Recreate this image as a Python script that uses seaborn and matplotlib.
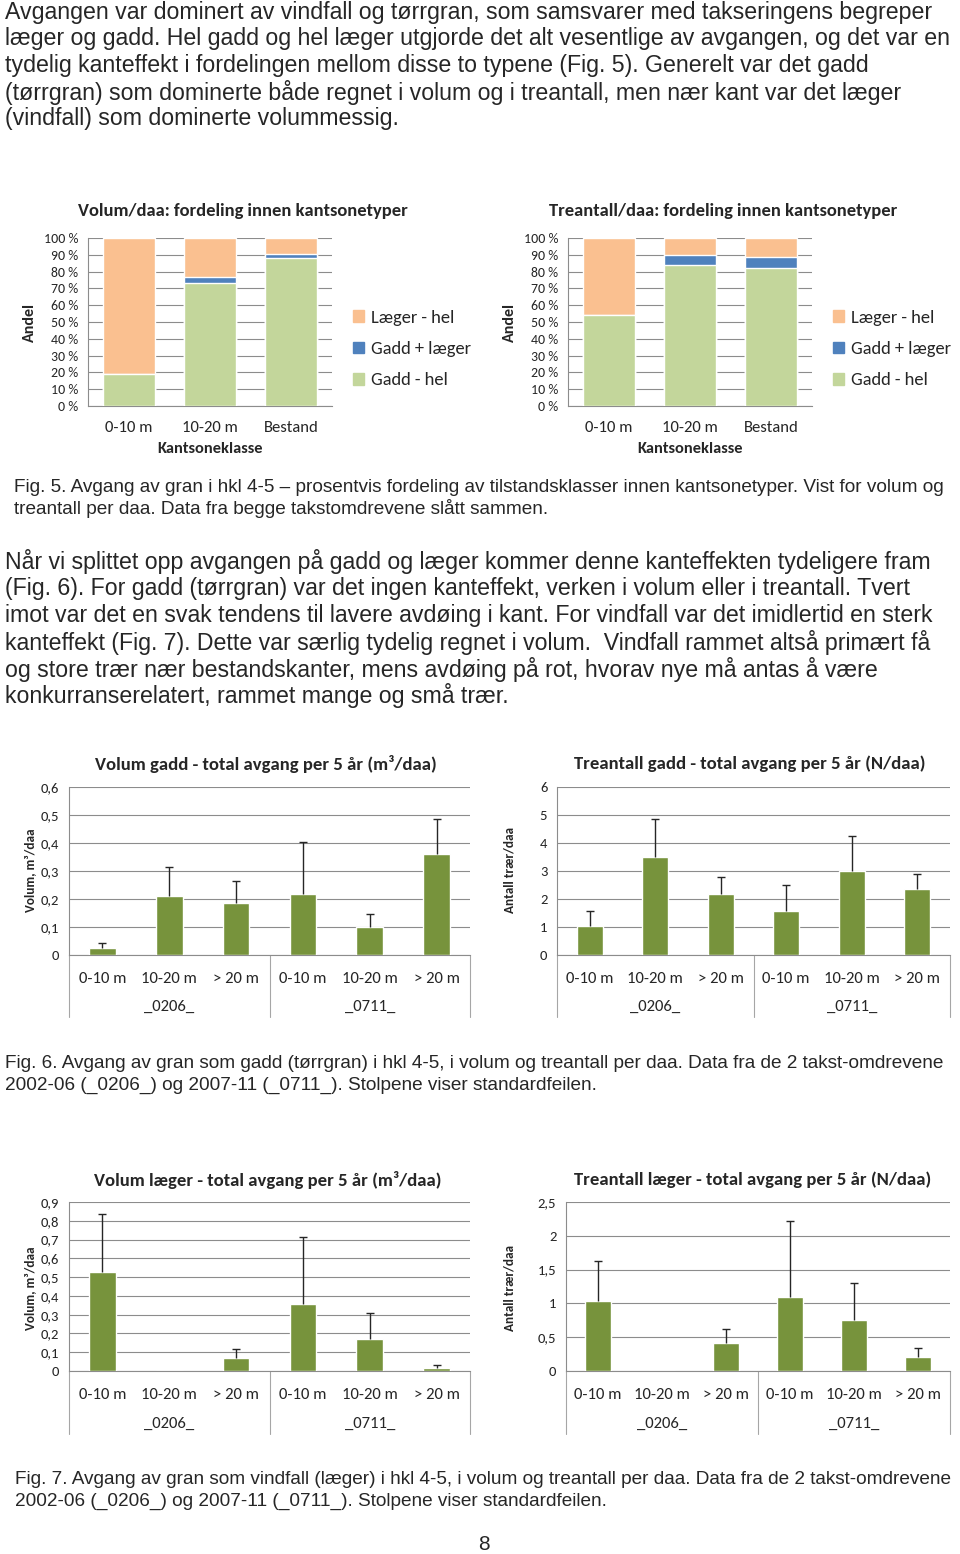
import numpy as np
import seaborn as sns
import matplotlib.pyplot as plt
import matplotlib.ticker as mtick
import matplotlib.transforms as mtrans

# Fig. 5 - andel (%) per kantsoneklasse
zones = ['0-10 m', '10-20 m', 'Bestand']
vol_gadd_hel = [19, 73.5, 88]
vol_gadd_laeger = [0, 3.5, 2.5]
vol_laeger_hel = [81, 23, 9.5]
tre_gadd_hel = [54, 84, 82]
tre_gadd_laeger = [0, 6, 6.5]
tre_laeger_hel = [46, 10, 11.5]
legend_labels = ['Læger - hel', 'Gadd + læger', 'Gadd - hel']

# Fig. 6 og 7 - avgang per 5 år, med standardfeil
classes = ['0-10 m', '10-20 m', '> 20 m']
periods = ['_0206_', '_0711_']
vol_gadd = [0.025, 0.212, 0.187, 0.218, 0.100, 0.362]
vol_gadd_se = [0.017, 0.103, 0.076, 0.185, 0.045, 0.125]
tre_gadd = [1.05, 3.50, 2.18, 1.57, 3.00, 2.37]
tre_gadd_se = [0.52, 1.37, 0.62, 0.93, 1.25, 0.53]
vol_laeger = [0.527, 0.0, 0.068, 0.357, 0.172, 0.018]
vol_laeger_se = [0.308, 0.0, 0.050, 0.355, 0.138, 0.015]
tre_laeger = [1.04, 0.0, 0.42, 1.10, 0.75, 0.21]
tre_laeger_se = [0.58, 0.0, 0.20, 1.12, 0.55, 0.13]

para1 = [
    "Avgangen var dominert av vindfall og tørrgran, som samsvarer med takseringens begreper",
    "læger og gadd. Hel gadd og hel læger utgjorde det alt vesentlige av avgangen, og det var en",
    "tydelig kanteffekt i fordelingen mellom disse to typene (Fig. 5). Generelt var det gadd",
    "(tørrgran) som dominerte både regnet i volum og i treantall, men nær kant var det læger",
    "(vindfall) som dominerte volummessig.",
]
cap5 = [
    "Fig. 5. Avgang av gran i hkl 4-5 – prosentvis fordeling av tilstandsklasser innen kantsonetyper. Vist for volum og",
    "treantall per daa. Data fra begge takstomdrevene slått sammen.",
]
para2 = [
    "Når vi splittet opp avgangen på gadd og læger kommer denne kanteffekten tydeligere fram",
    "(Fig. 6). For gadd (tørrgran) var det ingen kanteffekt, verken i volum eller i treantall. Tvert",
    "imot var det en svak tendens til lavere avdøing i kant. For vindfall var det imidlertid en sterk",
    "kanteffekt (Fig. 7). Dette var særlig tydelig regnet i volum.  Vindfall rammet altså primært få",
    "og store trær nær bestandskanter, mens avdøing på rot, hvorav nye må antas å være",
    "konkurranserelatert, rammet mange og små trær.",
]
cap6 = [
    "Fig. 6. Avgang av gran som gadd (tørrgran) i hkl 4-5, i volum og treantall per daa. Data fra de 2 takst-omdrevene",
    "2002-06 (_0206_) og 2007-11 (_0711_). Stolpene viser standardfeilen.",
]
cap7 = [
    "Fig. 7. Avgang av gran som vindfall (læger) i hkl 4-5, i volum og treantall per daa. Data fra de 2 takst-omdrevene",
    "2002-06 (_0206_) og 2007-11 (_0711_). Stolpene viser standardfeilen.",
]

ORANGE, BLUE, LGREEN, OLIVE = '#FAC090', '#4F81BD', '#C3D69B', '#77933C'
GRID = '#8C8C8C'
BODY = ['Liberation Sans', 'DejaVu Sans']
CHART = ['Carlito', 'Lato', 'DejaVu Sans']

sns.set_style('white')
plt.rcParams['font.family'] = CHART

W, H = 960, 1554
fig = plt.figure(figsize=(W / 100, H / 100), dpi=100)


def add_ax(left, top, right, bottom):
    return fig.add_axes([left / W, 1 - bottom / H, (right - left) / W, (bottom - top) / H])


def ftext(x, y, s, **kw):
    fig.text(x / W, 1 - y / H, s, **kw)


def body(lines, x, y0, dy, size):
    for i, line in enumerate(lines):
        ftext(x, y0 + i * dy, line, family=BODY, fontsize=size, va='center', ha='left')


def style_ax(ax, ymax, step, fmt, ysize):
    ax.set_ylim(0, ymax)
    ax.set_yticks(np.arange(0, ymax + step / 2, step))
    ax.yaxis.set_major_formatter(mtick.FuncFormatter(fmt))
    ax.yaxis.grid(True, color=GRID, lw=0.8)
    ax.set_axisbelow(True)
    for s in ['top', 'right']:
        ax.spines[s].set_visible(False)
    for s in ['left', 'bottom']:
        ax.spines[s].set_color(GRID)
        ax.spines[s].set_linewidth(0.8)
    ax.tick_params(axis='y', length=0, pad=7, labelsize=ysize, colors='#262626')
    ax.set_xlabel('')
    ax.set_ylabel('')


def stacked(ax, hel_g, gl, hel_l):
    g = np.array(hel_g)
    b = g + np.array(gl)
    t = b + np.array(hel_l)
    handles = []
    for vals, col in [(t, ORANGE), (b, BLUE), (g, LGREEN)]:
        sns.barplot(x=zones, y=vals, color=col, width=0.64, saturation=1,
                    errorbar=None, ax=ax, zorder=3)
        handles.append(plt.Rectangle((0, 0), 1, 1, color=col))
    ax.set_xlim(-0.5, 2.5)
    style_ax(ax, 100, 10, lambda v, p: f'{int(v)} %', 10)
    ax.tick_params(axis='x', length=0, pad=11, labelsize=12, colors='#262626')
    return handles


def bars(ax, vals, se, ymax, step):
    pos = [f'{p} {c}' for p in periods for c in classes]
    sns.barplot(x=pos, y=vals, color=OLIVE, width=0.4, saturation=1,
                errorbar=None, ax=ax, zorder=3)
    x = np.arange(len(vals))
    v = np.array(vals)
    e = np.array(se)
    keep = e > 0
    _, caps, _ = ax.errorbar(x[keep], v[keep], yerr=[np.zeros(keep.sum()), e[keep]],
                             fmt='none', ecolor='#262626', elinewidth=1,
                             capsize=3, capthick=1, zorder=4)
    for c in caps:
        if np.allclose(c.get_ydata(), v[keep]):
            c.set_visible(False)
    ax.set_xlim(-0.5, 5.5)
    style_ax(ax, ymax, step, lambda t, p: f'{t:g}'.replace('.', ','), 10.5)
    ax.set_xticks(x)
    ax.set_xticklabels(classes * 2)
    ax.tick_params(axis='x', length=0, pad=12, labelsize=12, colors='#262626')
    tr = mtrans.blended_transform_factory(ax.transData, ax.transAxes)
    for xs in [-0.5, 2.5, 5.5]:
        ax.plot([xs, xs], [0, -0.37], transform=tr, color='#A6A6A6', lw=0.8, clip_on=False)
    for i, p in enumerate(periods):
        ax.text(1 + 3 * i, -0.31, p, transform=tr, ha='center', va='center',
                fontsize=12, color='#262626')


# tekst på siden
body(para1, 5, 12, 26.7, 16.7)
body(cap5, 14, 487, 22, 13.7)
body(para2, 5, 562, 26.8, 16.7)
body(cap6, 5, 1063, 22, 13.7)
body(cap7, 15, 1479, 22, 13.7)
ftext(484, 1545, '8', family=BODY, fontsize=15, ha='center', va='center')

# Fig. 5
for left, title, data in [
    (88, 'Volum/daa: fordeling innen kantsonetyper', (vol_gadd_hel, vol_gadd_laeger, vol_laeger_hel)),
    (568, 'Treantall/daa: fordeling innen kantsonetyper', (tre_gadd_hel, tre_gadd_laeger, tre_laeger_hel)),
]:
    ax = add_ax(left, 238, left + 244, 406)
    handles = stacked(ax, *data)
    ftext(left + 155, 211, title, fontsize=13.3, weight='bold', ha='center', va='center')
    ftext(left - 58, 322, 'Andel', fontsize=11.5, weight='bold', rotation=90, ha='center', va='center')
    ftext(left + 122, 449, 'Kantsoneklasse', fontsize=11.8, weight='bold', ha='center', va='center')
    ax.legend(handles, legend_labels, loc='center left', frameon=False,
              bbox_to_anchor=((left + 265) / W, 1 - 349 / H), bbox_transform=fig.transFigure,
              fontsize=13.3, handlelength=0.6, handleheight=0.6, handletextpad=0.35,
              labelspacing=0.82, borderaxespad=0, borderpad=0)

# Fig. 6 og 7
panels = [
    ((69, 787, 470, 955), vol_gadd, vol_gadd_se, 0.6, 0.1,
     'Volum gadd - total avgang per 5 år (m³/daa)', (266, 764), 'Volum, m³/daa', (30, 870)),
    ((557, 787, 950, 955), tre_gadd, tre_gadd_se, 6, 1,
     'Treantall gadd - total avgang per 5 år (N/daa)', (750, 764), 'Antall trær/daa', (510, 870)),
    ((69, 1202, 470, 1371), vol_laeger, vol_laeger_se, 0.9, 0.1,
     'Volum læger - total avgang per 5 år (m³/daa)', (268, 1180), 'Volum, m³/daa', (30, 1288)),
    ((566, 1202, 950, 1371), tre_laeger, tre_laeger_se, 2.5, 0.5,
     'Treantall læger - total avgang per 5 år (N/daa)', (753, 1180), 'Antall trær/daa', (510, 1288)),
]
for box, vals, se, ymax, step, title, tpos, ylab, ypos in panels:
    ax = add_ax(*box)
    bars(ax, vals, se, ymax, step)
    ftext(tpos[0], tpos[1], title, fontsize=13.4, weight='bold', ha='center', va='center')
    ftext(ypos[0], ypos[1], ylab, fontsize=9.5, weight='bold', rotation=90, ha='center', va='center')

fig.savefig('out.png', dpi=100)
